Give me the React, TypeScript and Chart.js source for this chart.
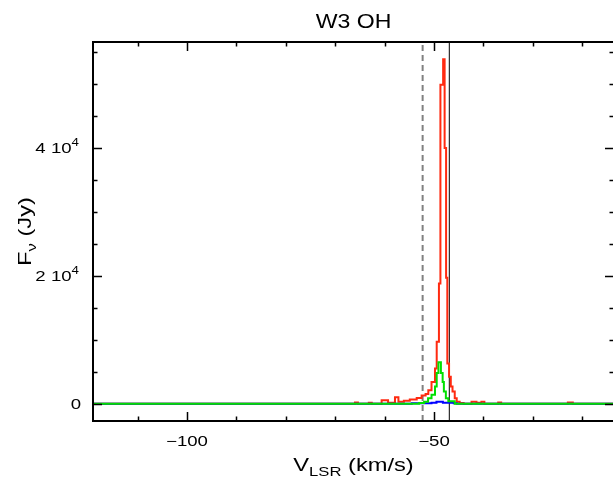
import { useEffect, useRef } from "react";
import { Chart, registerables } from "chart.js";

Chart.register(...registerables);

// ---- data ----
const TITLE = "W3 OH";
const X_MIN = -119.03;
const X_MAX = -13.56;
const Y_MIN = -2706;
const Y_MAX = 56580;

const RED_V = [-119.03, -66.0, -65.4, -63.2, -62.6, -60.6, -59.3, -57.9, -57.2, -56.1, -54.9, -53.5, -52.5, -51.7, -51.15, -50.5, -49.8, -49.45, -49.0, -48.7, -48.15, -47.85, -47.55, -47.3, -46.95, -46.6, -46.25, -45.8, -45.4, -44.8, -44.0, -42.4, -41.4, -40.4, -39.8, -37.0, -36.4, -22.9, -21.9, -13.56];
const RED_F = [0, 200, 0, 150, 0, 550, 150, 1000, 300, 450, 650, 900, 1300, 1500, 2100, 3400, 5500, 9700, 18800, 49900, 53900, 40000, 19700, 6300, 4200, 2700, 1900, 850, 300, 100, 0, 300, 150, 300, 0, 200, 0, 200, 0, 0];

const GREEN_V = [-119.03, -53.0, -52.0, -51.2, -50.5, -49.8, -49.45, -49.1, -48.6, -48.25, -48.0, -47.6, -47.1, -45.8, -13.56];
const GREEN_F = [0, 100, 300, 850, 1400, 2700, 4800, 6500, 4800, 3400, 1900, 850, 400, 0, 0];

const BLUE_V = [-119.03, -54.5, -50.5, -49.5, -48.2, -46.0, -45.4, -13.56];
const BLUE_F = [0, 80, 150, 300, 150, 80, 0, 0];

const DASHED_V = -52.3;
const SOLID_V = -46.9;

const X_MAJOR_TICKS = [-100, -50];
const X_MAJOR_LABELS = ["\u2212100", "\u221250"];
const X_MINOR_TICKS = [-110, -100, -90, -80, -70, -60, -50, -40, -30, -20];
const Y_MAJOR_TICKS = [0, 20000, 40000];
const Y_MAJOR_MANTISSA = ["0", "2", "4"];
const Y_MAJOR_EXPONENT = ["", "4", "4"];
const Y_MINOR_TICKS = [0, 5000, 10000, 15000, 20000, 25000, 30000, 35000, 40000, 45000, 50000, 55000];

const FONT = "'Liberation Sans', Arial, Helvetica, sans-serif";
const TICK_SX = 1.33; // PGPLOT glyphs are wider than Helvetica

function pts(v: number[], f: number[]) {
  return v.map((x, i) => ({ x, y: f[i] }));
}

function sText(ctx: CanvasRenderingContext2D, text: string, x: number, y: number, font: string, sx: number) {
  ctx.save();
  ctx.font = font;
  ctx.translate(x, y);
  ctx.scale(sx, 1);
  ctx.textAlign = "left";
  ctx.fillText(text, 0, 0);
  ctx.restore();
}
function sWidth(ctx: CanvasRenderingContext2D, text: string, font: string, sx: number) {
  ctx.save();
  ctx.font = font;
  const w = ctx.measureText(text).width * sx;
  ctx.restore();
  return w;
}

const framePlugin = {
  id: "pgframe",
  afterDraw(chart: any) {
    const { ctx, chartArea: a, scales } = chart;
    const xs = scales.x;
    const ys = scales.y;
    ctx.save();
    ctx.strokeStyle = "#000";
    ctx.fillStyle = "#000";
    ctx.textBaseline = "alphabetic";
    // frame
    ctx.lineWidth = 2;
    ctx.strokeRect(a.left, a.top, a.right - a.left, a.bottom - a.top);
    // ticks
    ctx.lineWidth = 1.5;
    const majL = 9, minL = 4.5;
    X_MINOR_TICKS.forEach((v) => {
      const px = Math.round(xs.getPixelForValue(v)) + 0.5;
      const len = X_MAJOR_TICKS.includes(v) ? majL : minL;
      ctx.beginPath();
      ctx.moveTo(px, a.bottom);
      ctx.lineTo(px, a.bottom - len);
      ctx.moveTo(px, a.top);
      ctx.lineTo(px, a.top + len);
      ctx.stroke();
    });
    Y_MINOR_TICKS.forEach((v) => {
      const py = Math.round(ys.getPixelForValue(v)) + 0.5;
      const len = Y_MAJOR_TICKS.includes(v) ? majL : minL;
      ctx.beginPath();
      ctx.moveTo(a.left, py);
      ctx.lineTo(a.left + len, py);
      ctx.moveTo(a.right, py);
      ctx.lineTo(a.right - len, py);
      ctx.stroke();
    });
    const tickFont = `14px ${FONT}`;
    // x tick labels
    X_MAJOR_TICKS.forEach((v, i) => {
      const px = xs.getPixelForValue(v);
      const w = sWidth(ctx, X_MAJOR_LABELS[i], tickFont, TICK_SX);
      sText(ctx, X_MAJOR_LABELS[i], px - w / 2, a.bottom + 25, tickFont, TICK_SX);
    });
    // y tick labels
    const expFont = `10px ${FONT}`;
    Y_MAJOR_TICKS.forEach((v, i) => {
      const py = ys.getPixelForValue(v) + 5;
      const exp = Y_MAJOR_EXPONENT[i];
      if (!exp) {
        const right = a.left - 12;
        const w = sWidth(ctx, Y_MAJOR_MANTISSA[i], tickFont, TICK_SX);
        sText(ctx, Y_MAJOR_MANTISSA[i], right - w, py, tickFont, TICK_SX);
      } else {
        const right = a.left - 14;
        const ew = sWidth(ctx, exp, expFont, TICK_SX);
        sText(ctx, exp, right - ew, py - 7, expFont, TICK_SX);
        const mt = Y_MAJOR_MANTISSA[i] + " 10";
        const mw = sWidth(ctx, mt, tickFont, TICK_SX);
        sText(ctx, mt, right - ew - mw, py, tickFont, TICK_SX);
      }
    });
    // title
    {
      const f = `21px ${FONT}`;
      const sx = 1.1;
      const w = sWidth(ctx, TITLE, f, sx);
      sText(ctx, TITLE, (a.left + a.right) / 2 - w / 2, 28, f, sx);
    }
    const labBig = `18.5px ${FONT}`;
    const labSmall = `13px ${FONT}`;
    const labSx = 1.28;
    // x title: V_LSR (km/s)
    {
      const w1 = sWidth(ctx, "V", labBig, labSx);
      const w2 = sWidth(ctx, "LSR", labSmall, labSx);
      const w3 = sWidth(ctx, " (km/s)", labBig, labSx);
      const total = w1 + w2 + w3;
      const x0 = (a.left + a.right) / 2 - total / 2;
      const base = 471;
      sText(ctx, "V", x0, base, labBig, labSx);
      sText(ctx, "LSR", x0 + w1, base + 5, labSmall, labSx);
      sText(ctx, " (km/s)", x0 + w1 + w2, base, labBig, labSx);
    }
    // y title: F_nu (Jy)
    {
      ctx.save();
      const cy = (a.top + a.bottom) / 2;
      ctx.translate(31, cy);
      ctx.rotate(-Math.PI / 2);
      const w1 = sWidth(ctx, "F", labBig, labSx);
      const w2 = sWidth(ctx, "\u03bd", labSmall, labSx);
      const w3 = sWidth(ctx, " (Jy)", labBig, labSx);
      const total = w1 + w2 + w3;
      const x0 = -total / 2;
      sText(ctx, "F", x0, 0, labBig, labSx);
      sText(ctx, "\u03bd", x0 + w1, 5, labSmall, labSx);
      sText(ctx, " (Jy)", x0 + w1 + w2, 0, labBig, labSx);
      ctx.restore();
    }
    ctx.restore();
  },
};

export default function App() {
  const ref = useRef<HTMLCanvasElement | null>(null);
  useEffect(() => {
    const canvas = ref.current;
    if (!canvas) return;
    const chart = new Chart(canvas, {
      type: "line",
      data: {
        datasets: [
          {
            label: "green",
            data: pts(GREEN_V, GREEN_F),
            borderColor: "#00e000",
            borderWidth: 2,
            stepped: "before",
            pointRadius: 0,
            fill: false,
            order: 1,
          },
          {
            label: "blue",
            data: pts(BLUE_V, BLUE_F),
            borderColor: "#0000ff",
            borderWidth: 2,
            stepped: "before",
            pointRadius: 0,
            fill: false,
            order: 2,
          },
          {
            label: "red",
            data: pts(RED_V, RED_F),
            borderColor: "#ff2a10",
            borderWidth: 2,
            stepped: "before",
            pointRadius: 0,
            fill: false,
            order: 3,
          },
          {
            label: "solid",
            data: [
              { x: SOLID_V, y: Y_MIN },
              { x: SOLID_V, y: Y_MAX },
            ],
            borderColor: "#000",
            borderWidth: 1,
            pointRadius: 0,
            fill: false,
            order: 4,
          },
          {
            label: "dashed",
            data: [
              { x: DASHED_V, y: Y_MIN },
              { x: DASHED_V, y: Y_MAX },
            ],
            borderColor: "#808080",
            borderWidth: 2,
            borderDash: [6, 4],
            pointRadius: 0,
            fill: false,
            order: 5,
          },
        ],
      },
      options: {
        responsive: false,
        animation: false,
        devicePixelRatio: 1,
        layout: { padding: { left: 93, top: 42, right: 6, bottom: 62 } },
        plugins: {
          legend: { display: false },
          tooltip: { enabled: false },
        },
        scales: {
          x: { type: "linear", min: X_MIN, max: X_MAX, display: false },
          y: { type: "linear", min: Y_MIN, max: Y_MAX, display: false },
        },
      },
      plugins: [framePlugin],
    });
    return () => chart.destroy();
  }, []);
  return (
    <div
      style={{
        position: "fixed",
        left: 0,
        top: 0,
        width: 613,
        height: 483,
        overflow: "hidden",
        background: "#fff",
      }}
    >
      <canvas ref={ref} width={620} height={483} style={{ display: "block" }} />
    </div>
  );
}
